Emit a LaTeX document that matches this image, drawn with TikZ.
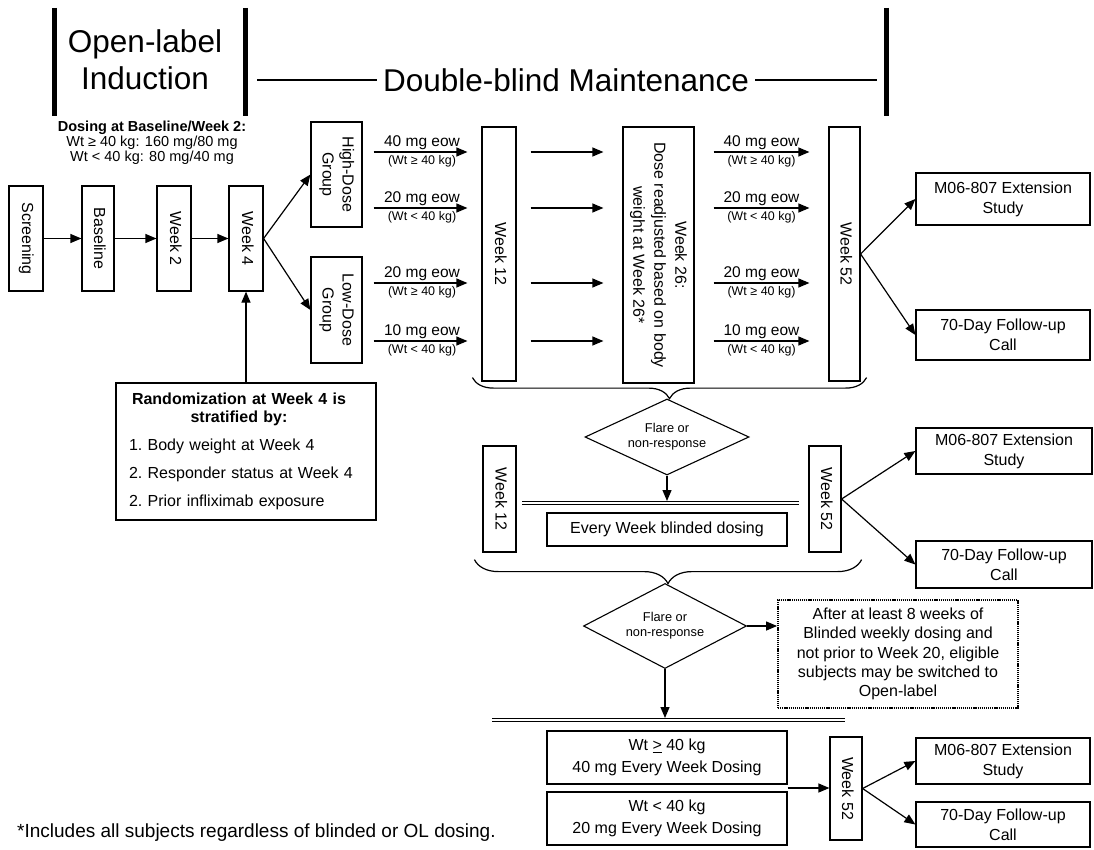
\documentclass[tikz,border=0pt]{standalone}
\usepackage{fontspec}
\setmainfont{Liberation Sans}
\usepackage{graphicx}
\usetikzlibrary{arrows.meta,shapes.geometric,decorations.pathreplacing,calc}

\newcommand\vtext[1]{\rotatebox{-90}{\begin{tabular}{@{}c@{}}#1\end{tabular}}}

\tikzset{
  box/.style={draw, line width=1.2pt, inner sep=0pt, align=center,
    font=\fontsize{16}{20}\selectfont},
  arr/.style={line width=1.2pt, -{Triangle[length=11pt,width=9pt]}},
  phase/.style={line width=5pt},
  dbl/.style={double, double distance=2.6pt, line width=1.1pt},
  curly/.style={decorate, decoration={brace, mirror, amplitude=#1}, line width=1.2pt},
  flare/.style={draw, diamond, aspect=2.16, line width=1.1pt, inner sep=0pt,
    align=center, font=\fontsize{12.8}{15}\selectfont},
  dotbox/.style={dash pattern=on 1.2pt off 0.9pt, line width=1.8pt},
  dose/.style={font=\fontsize{15.5}{18}\selectfont, inner sep=2pt},
  wt/.style={font=\fontsize{12.5}{14}\selectfont, inner sep=3pt},
}

\begin{document}
\begin{tikzpicture}[x=1pt,y=-1pt]
    \useasboundingbox (0,0) rectangle (1094,850);

    % Phase headers
    \draw[phase] (54,8) -- (54,116);
    \draw[phase] (245,8) -- (245,116);
    \draw[phase] (886,8) -- (886,116);
    \node[font=\fontsize{31.5}{37}\selectfont, align=center] (olind) at (145,60) {Open-label\\Induction};
    \node[font=\fontsize{31.5}{37}\selectfont, inner sep=6pt] (dbm) at (566,80) {Double-blind Maintenance};
    \draw[line width=1.2pt] (257,0 |- dbm.west) -- (dbm.west);
    \draw[line width=1.2pt] (dbm.east) -- (877,0 |- dbm.east);

    \node[align=center, font=\fontsize{14.5}{15}\selectfont, inner sep=0pt] (dosing) at (152,143)
        {\textbf{Dosing at Baseline/Week 2:}\\Wt ≥ 40 kg: 160 mg/80 mg\\Wt < 40 kg: 80 mg/40 mg};

    % Induction visits
    \foreach \nm/\x/\w/\txt in {scr/26/34/Screening, base/98/32/Baseline, wk2/174/34/Week 2, wk4/246/34/Week 4} {
        \node[box, minimum width=\w, minimum height=105] (\nm) at (\x,238.5) {\vtext{\txt}};
    }
    \draw[arr] (scr) -- (base);
    \draw[arr] (base) -- (wk2);
    \draw[arr] (wk2) -- (wk4);

    \node[box, minimum width=260, minimum height=137, text width=234pt, inner xsep=13pt,
          align=left, font=\fontsize{16}{18}\selectfont\frenchspacing] (rand) at (246,451.5)
        {\parbox{220pt}{\centering\bfseries Randomization at Week 4 is\\stratified by:}\\[12pt]
         1. Body weight at Week 4\\[10pt]
         2. Responder status at Week 4\\[10pt]
         2. Prior infliximab exposure};
    \draw[arr] (rand.north) -- (wk4.south);

    % Dose groups
    \node[box, minimum width=51, minimum height=105] (hd) at (336.5,174.5) {\vtext{High-Dose\\Group}};
    \node[box, minimum width=51, minimum height=106] (ld) at (336.5,310) {\vtext{Low-Dose\\Group}};
    \draw[arr] (wk4.east) -- (hd.west);
    \draw[arr] (wk4.east) -- (ld.west);

    % Maintenance visits
    \node[box, minimum width=34, minimum height=254] (wk12) at (499,254) {\vtext{Week 12}};
    \node[box, minimum width=71, minimum height=256, font=\fontsize{16}{21}\selectfont] (wk26) at (658.5,255)
        {\vtext{Week 26:\\Dose readjusted based on body\\weight at Week 26*}};
    \node[box, minimum width=31, minimum height=254] (wk52) at (844.5,254) {\vtext{Week 52}};

    \foreach \y/\dose/\wt in {152/40 mg eow/(Wt ≥ 40 kg), 208/20 mg eow/(Wt < 40 kg),
                              283/20 mg eow/(Wt ≥ 40 kg), 341/10 mg eow/(Wt < 40 kg)} {
        \draw[arr, shorten <=11pt, shorten >=14pt] (hd.east |- 0,\y) -- (wk12.west |- 0,\y)
            node[dose, midway, above] {\dose} node[wt, midway, below] {\wt};
        \draw[arr, shorten <=14pt, shorten >=19pt] (wk12.east |- 0,\y) -- (wk26.west |- 0,\y);
        \draw[arr, shorten <=19pt, shorten >=19pt] (wk26.east |- 0,\y) -- (wk52.west |- 0,\y)
            node[dose, midway, above] {\dose} node[wt, midway, below] {\wt};
    }

    \node[box, minimum width=174, minimum height=52] (ext1) at (1003,199) {M06-807 Extension\\Study};
    \node[box, minimum width=174, minimum height=50] (fu1) at (1003,335) {70-Day Follow-up\\Call};
    \draw[arr] (wk52.east) -- (ext1.west);
    \draw[arr] (wk52.east) -- (fu1.west);

    % First flare branch
    \draw[curly=21] ([shift={(-9,-4)}]wk12.south west) -- ([shift={(6,-4)}]wk52.south east);
    \node[flare, minimum width=164, minimum height=76] (dia1) at (667,437) {Flare or\\non-response};
    \coordinate (s1a) at (522,503);
    \coordinate (s1b) at (799,503);
    \draw[dbl] (s1a) -- (s1b);
    \draw[arr, shorten >=2pt] (dia1.south) -- (dia1.south |- s1a);

    \node[box, minimum width=33, minimum height=106] (wk12b) at (499.5,499) {\vtext{Week 12}};
    \node[box, minimum width=32, minimum height=106] (wk52b) at (825,499) {\vtext{Week 52}};
    \node[box, minimum width=240, minimum height=33] (every) at (667,529.5) {Every Week blinded dosing};
    \node[box, minimum width=176, minimum height=46] (ext2) at (1004,451) {M06-807 Extension\\Study};
    \node[box, minimum width=176, minimum height=47] (fu2) at (1004,564.5) {70-Day Follow-up\\Call};
    \draw[arr] (wk52b.east) -- (ext2.west);
    \draw[arr] (wk52b.east) -- (fu2.west);

    % Second flare branch
    \draw[curly=24] ([shift={(-8,7)}]wk12b.south west) -- ([shift={(20,7)}]wk52b.south east);
    \node[flare, minimum width=163, minimum height=85] (dia2) at (665,626) {Flare or\\non-response};
    \node[box, dotbox, minimum width=240, minimum height=108, font=\fontsize{16}{19.4}\selectfont] (note) at (898,654)
        {After at least 8 weeks of\\Blinded weekly dosing and\\not prior to Week 20, eligible\\subjects may be switched to\\Open-label};
    \draw[arr] (dia2.east) -- (dia2.east -| note.west);
    \coordinate (s2a) at (492,720);
    \coordinate (s2b) at (845,720);
    \draw[dbl] (s2a) -- (s2b);
    \draw[arr, shorten >=2pt] (dia2.south) -- (dia2.south |- s2a);

    % Open-label weekly dosing
    \node[box, minimum width=240, minimum height=53, font=\fontsize{16}{22}\selectfont] (hiwt) at (667,757.5)
        {Wt \underline{>} 40 kg\\40 mg Every Week Dosing};
    \node[box, minimum width=240, minimum height=53, font=\fontsize{16}{22}\selectfont] (lowt) at (667,818.5)
        {Wt < 40 kg\\20 mg Every Week Dosing};
    \node[box, minimum width=32, minimum height=103] (wk52c) at (846,788.5) {\vtext{Week 52}};
    \coordinate (join) at ($(hiwt.south east)!0.5!(lowt.north east)$);
    \draw[arr] (join) -- (join -| wk52c.west);
    \node[box, minimum width=174, minimum height=46] (ext3) at (1003,761) {M06-807 Extension\\Study};
    \node[box, minimum width=174, minimum height=45] (fu3) at (1003,824.5) {70-Day Follow-up\\Call};
    \draw[arr] (wk52c.east) -- (ext3.west);
    \draw[arr] (wk52c.east) -- (fu3.west);

    \node[anchor=west, font=\fontsize{19}{22}\selectfont, inner sep=0pt] (fnote) at (17,833)
        {*Includes all subjects regardless of blinded or OL dosing.};
\end{tikzpicture}
\end{document}
